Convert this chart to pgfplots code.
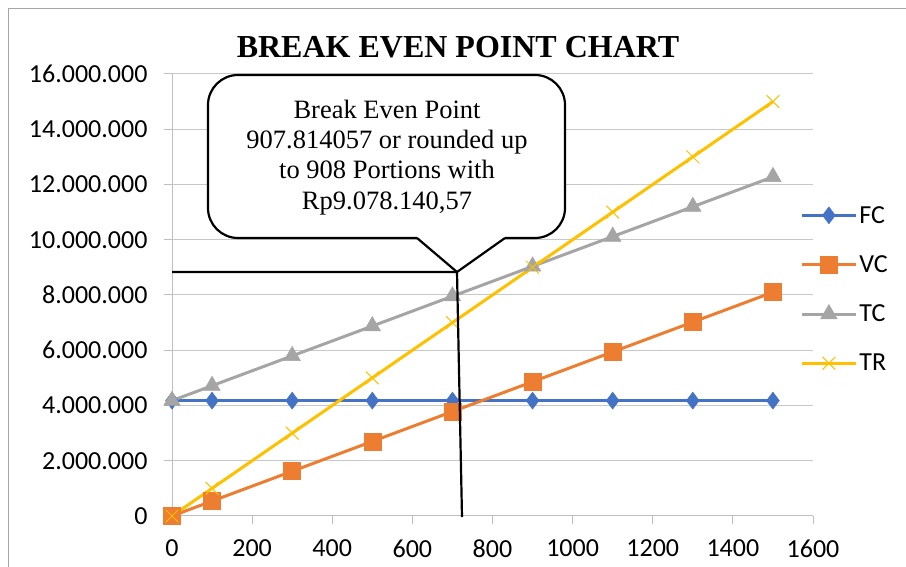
\documentclass[border=0pt]{standalone}
\usepackage{fontspec}
\setmainfont{Carlito}
\newfontfamily\timesfont{Liberation Serif}
\usepackage{pgfplots}
\pgfplotsset{compat=1.18}
\definecolor{cFC}{HTML}{4472C4}
\definecolor{cVC}{HTML}{ED7D31}
\definecolor{cTC}{HTML}{A5A5A5}
\definecolor{cTR}{HTML}{FFC000}
\definecolor{gridgray}{HTML}{C8C8C8}
\definecolor{axgray}{HTML}{BFBFBF}
\definecolor{framegray}{HTML}{A6A6A6}
\begin{document}
\begin{tikzpicture}[x=1bp,y=1bp]
\path[use as bounding box] (0,0) rectangle (906,567);
\draw[color=framegray, line width=1bp] (8.5,0) -- (8.5,558.5) -- (906,558.5);
\begin{axis}[
  at={(172bp,51bp)}, anchor=south west,
  width=641bp, height=442bp, scale only axis,
  xmin=0, xmax=1600, ymin=0, ymax=16000000,
  xtick={0,200,400,600,800,1000,1200,1400,1600},
  ytick={0,2000000,4000000,6000000,8000000,10000000,12000000,14000000,16000000},
  axis lines=left, axis line style={-, color=axgray, line width=1bp},
  ymajorgrids, grid style={color=gridgray, line width=1bp},
  tick align=outside, major tick length=8bp,
  tick style={color=axgray, line width=1bp},
  scaled y ticks=false, scaled x ticks=false,
  /pgf/number format/assume math mode=true,
  yticklabel style={/pgf/number format/fixed, /pgf/number format/precision=0, /pgf/number format/1000 sep={.}, xshift=-13bp},
  xticklabel style={/pgf/number format/fixed, /pgf/number format/1000 sep={}, yshift=-12bp},
  ticklabel style={font=\fontsize{26bp}{30bp}\selectfont},
  clip=false,
  legend image code/.code={\draw[mark repeat=2,mark phase=2,#1] plot coordinates {(0bp,0bp) (27bp,0bp) (54bp,0bp)};},
  legend style={draw=none, fill=none, font=\fontsize{26bp}{30bp}\selectfont,
    at={(axis description cs:0.98,0.706)}, anchor=north west, row sep=27bp, inner sep=0pt},
  legend cell align=left,
]
\addplot[color=cFC, line width=3bp, mark=diamond*, mark size=8.5bp, mark options={fill=cFC, line width=0.5bp}] coordinates {
(0,4175945) (100,4175945) (300,4175945) (500,4175945) (700,4175945) (900,4175945) (1100,4175945) (1300,4175945) (1500,4175945)};
\addlegendentry{FC}
\addplot[color=cVC, line width=3bp, mark=square*, mark size=8.5bp, mark options={fill=cVC, line width=0.5bp}] coordinates {
(0,0) (100,540000) (300,1620000) (500,2700000) (700,3780000) (900,4860000) (1100,5940000) (1300,7020000) (1500,8100000)};
\addlegendentry{VC}
\addplot[color=cTC, line width=3bp, mark=triangle*, mark size=9.5bp, mark options={fill=cTC, line width=0.5bp}] coordinates {
(0,4175945) (100,4715945) (300,5795945) (500,6875945) (700,7955945) (900,9035945) (1100,10115945) (1300,11195945) (1500,12275945)};
\addlegendentry{TC}
\addplot[color=cTR, line width=3bp, mark=x, mark size=9bp, mark options={line width=1bp}] coordinates {
(0,0) (100,1000000) (300,3000000) (500,5000000) (700,7000000) (900,9000000) (1100,11000000) (1300,13000000) (1500,15000000)};
\addlegendentry{TR}
\end{axis}
% callout
\fill[white, rounded corners=30bp] (208,329) rectangle (565,492);
\fill[white] (417,330) -- (457,295) -- (505,330) -- cycle;
\draw[black, line width=2.2bp, rounded corners=30bp] (505,329) -- (565,329) -- (565,492) -- (208,492) -- (208,329) -- (417,329);
\draw[black, line width=2.2bp, line join=miter] (417,329) -- (457,295) -- (505,329);
\draw[black, line width=2.2bp] (172,295) -- (457,295) -- (462,50);
\begin{scope}[every node/.style={font=\timesfont\fontsize{26.5bp}{30bp}\selectfont, anchor=base, inner sep=0pt}]
\node at (387,448) {Break Even Point};
\node at (387,418) {907.814057 or rounded up};
\node at (387,388) {to 908 Portions with};
\node at (387,357) {Rp9.078.140,57};
\end{scope}
\node[anchor=base, inner sep=0pt, font=\timesfont\bfseries\fontsize{32bp}{36bp}\selectfont] at (458,509) {BREAK EVEN POINT CHART};
\end{tikzpicture}
\end{document}
